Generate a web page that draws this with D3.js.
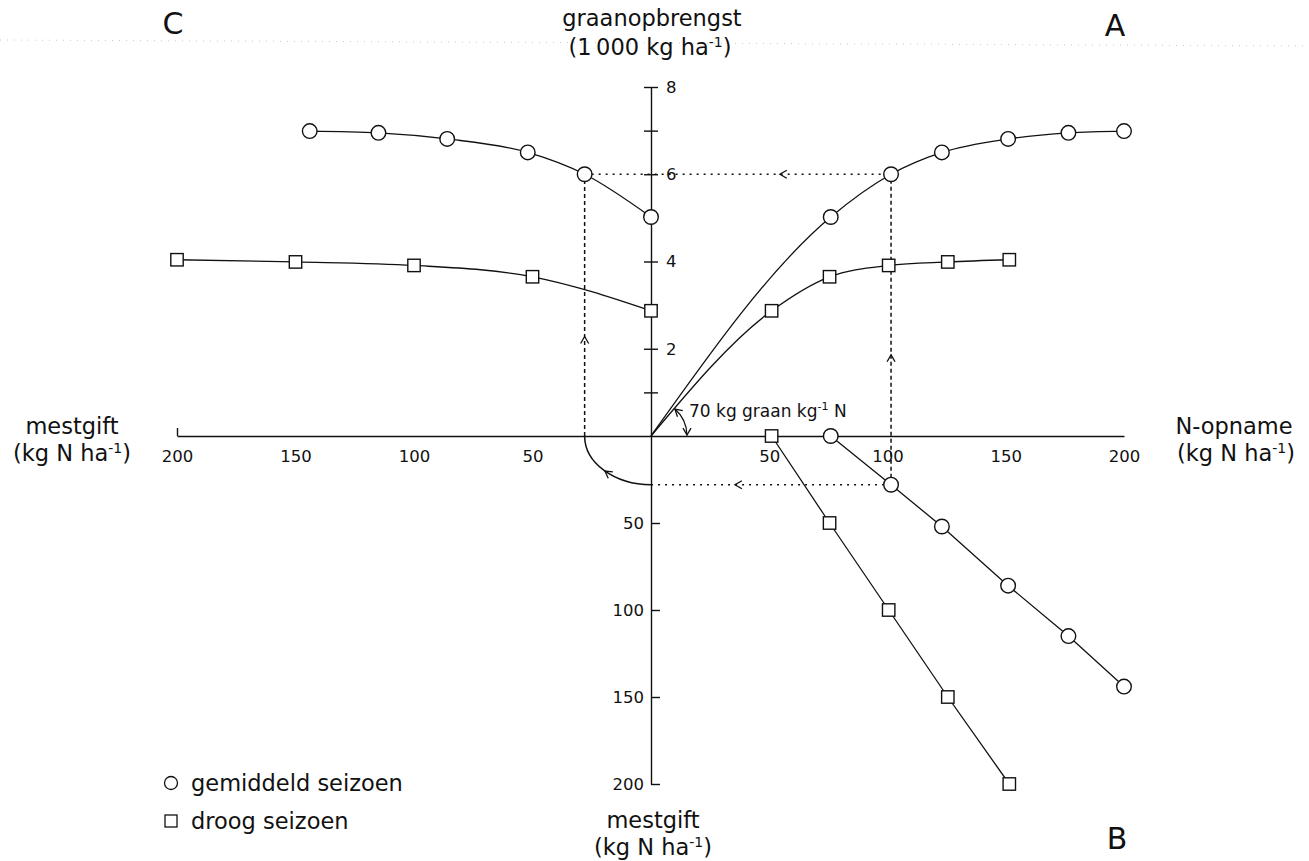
<!DOCTYPE html>
<html>
<head>
<meta charset="utf-8">
<script src="https://cdn.jsdelivr.net/npm/d3@7"></script>
<style>
  body { margin: 0; background: #fff; }
  text { font-family: 'DejaVu Sans', sans-serif; fill: #111; }
  .tick text { font-size: 16.5px; }
  .title { font-size: 22.5px; }
</style>
</head>
<body>
<div id="chart"></div>
<script>
const WIDTH  = 1309;
const HEIGHT = 861;
const ORIGIN = { x: 651, y: 436 };

// gemiddeld seizoen (circles): N-opname, mestgift, graanopbrengst per point
const avgUptake = [76, 101.5, 123, 151, 176.5, 200];
const avgFert   = [0, 28, 52, 86, 115, 144];
const avgYield  = [5.02, 6.0, 6.5, 6.81, 6.95, 6.99];

// droog seizoen (squares)
const dryUptake = [51, 75.5, 100.5, 125.5, 151.5];
const dryFert   = [0, 50, 100, 150, 200];
const dryYield  = [2.87, 3.65, 3.91, 3.99, 4.04];

const yieldTicks  = [1, 2, 3, 4, 5, 6, 7, 8];
const yieldLabels = [2, 4, 6, 8];
const fertTicks   = [50, 100, 150, 200];
const uptakeTicks = [50, 100, 150, 200];

// worked example
const example = { fert: 28, uptake: 101.5, yield: 6 };

const svg = d3.select('#chart').append('svg')
  .attr('width', WIDTH)
  .attr('height', HEIGHT);

// one scale per half-axis, all meeting at the origin
const xN = d3.scaleLinear().domain([0, 200]).range([ORIGIN.x, 1124]);  // N-opname, right
const xM = d3.scaleLinear().domain([0, 200]).range([ORIGIN.x, 177]);   // mestgift, left
const yY = d3.scaleLinear().domain([0, 8]).range([ORIGIN.y, 87]);      // graan, up
const yM = d3.scaleLinear().domain([0, 200]).range([ORIGIN.y, 784]);   // mestgift, down

// faint scan line at the top
svg.append('line')
  .attr('x1', 0).attr('y1', 40).attr('x2', WIDTH).attr('y2', 46)
  .attr('stroke', '#c8c8c8').attr('stroke-width', 1).attr('stroke-dasharray', '1,6');

// ---- axes
const topAxis = d3.axisRight(yY).tickValues(yieldTicks).tickSize(7).tickSizeOuter(0)
  .tickFormat(d => yieldLabels.includes(d) ? d : '');
const gTop = svg.append('g').attr('transform', 'translate(' + ORIGIN.x + ',0)').call(topAxis);
gTop.selectAll('.tick line').attr('x1', -7);
gTop.selectAll('.tick text').attr('x', 15);

const bottomAxis = d3.axisRight(yM).tickValues(fertTicks).tickSize(9).tickSizeOuter(0);
const gBottom = svg.append('g').attr('transform', 'translate(' + ORIGIN.x + ',0)').call(bottomAxis);
gBottom.selectAll('.tick text').attr('x', -7).attr('text-anchor', 'end');

const leftAxis = d3.axisBottom(xM).tickValues(fertTicks).tickSize(0).tickSizeOuter(0);
const gLeft = svg.append('g').attr('transform', 'translate(0,' + ORIGIN.y + ')').call(leftAxis);
gLeft.selectAll('.tick text').attr('y', 26).attr('dy', 0);
gLeft.selectAll('.tick line').attr('y2', d => d === 200 ? -8 : 0);

const rightAxis = d3.axisBottom(xN).tickValues(uptakeTicks).tickSize(0).tickSizeOuter(0);
const gRight = svg.append('g').attr('transform', 'translate(0,' + ORIGIN.y + ')').call(rightAxis);
gRight.selectAll('.tick text').attr('y', 26).attr('dy', 0);

svg.selectAll('.domain, .tick line').attr('stroke', '#111').attr('stroke-width', 1.4);

// ---- construction lines (dotted/dashed with arrows)
const guide = svg.append('g').attr('fill', 'none').attr('stroke', '#111').attr('stroke-width', 1.5);
guide.append('line')
  .attr('x1', xM(example.fert)).attr('x2', xN(example.uptake))
  .attr('y1', yY(example.yield)).attr('y2', yY(example.yield))
  .attr('stroke-dasharray', '2,5');
guide.append('line')
  .attr('x1', xN(example.uptake)).attr('x2', ORIGIN.x)
  .attr('y1', yM(example.fert)).attr('y2', yM(example.fert))
  .attr('stroke-dasharray', '2,5');
guide.append('line')
  .attr('x1', xN(example.uptake)).attr('x2', xN(example.uptake))
  .attr('y1', yM(example.fert)).attr('y2', yY(example.yield))
  .attr('stroke-dasharray', '4,3');
guide.append('line')
  .attr('x1', xM(example.fert)).attr('x2', xM(example.fert))
  .attr('y1', ORIGIN.y).attr('y2', yY(example.yield))
  .attr('stroke-dasharray', '4,3');

// quarter ellipse carrying mestgift from the lower axis to the left axis
const rx = ORIGIN.x - xM(example.fert);
const ry = yM(example.fert) - ORIGIN.y;
guide.append('path')
  .attr('d', 'M' + ORIGIN.x + ',' + yM(example.fert) +
             'A' + rx + ',' + ry + ' 0 0 1 ' + xM(example.fert) + ',' + ORIGIN.y);

function arrowHead(g, x, y, angle) {
  const L = 8, spread = Math.PI / 6;
  g.append('path')
    .attr('d', 'M' + (x - L * Math.cos(angle - spread)) + ',' + (y - L * Math.sin(angle - spread)) +
               'L' + x + ',' + y +
               'L' + (x - L * Math.cos(angle + spread)) + ',' + (y - L * Math.sin(angle + spread)))
    .attr('fill', 'none').attr('stroke', '#111').attr('stroke-width', 1.3);
}
arrowHead(svg, xN(54.5), yY(example.yield), Math.PI);
arrowHead(svg, xN(35.5), yM(example.fert), Math.PI);
arrowHead(svg, xN(example.uptake), yY(1.86), -Math.PI / 2);
arrowHead(svg, xM(example.fert), yY(2.28), -Math.PI / 2);
const t = 134 * Math.PI / 180;
arrowHead(svg, ORIGIN.x + rx * Math.cos(t), ORIGIN.y + ry * Math.sin(t),
          Math.atan2(ry * Math.cos(t), -rx * Math.sin(t)));

// ---- curves
const lineA = d3.line().x(d => xN(d[0])).y(d => yY(d[1])).curve(d3.curveMonotoneX);
const lineB = d3.line().x(d => xN(d[0])).y(d => yM(d[1]));
const lineC = d3.line().x(d => xM(d[0])).y(d => yY(d[1])).curve(d3.curveMonotoneX);

const series = [
  { shape: 'circle', uptake: avgUptake, fert: avgFert, yield: avgYield },
  { shape: 'square', uptake: dryUptake, fert: dryFert, yield: dryYield }
];

const curves = svg.append('g').attr('fill', 'none').attr('stroke', '#111').attr('stroke-width', 1.3);
series.forEach(s => {
  curves.append('path').attr('d', lineA([[0, 0]].concat(d3.zip(s.uptake, s.yield))));
  curves.append('path').attr('d', lineB(d3.zip(s.uptake, s.fert)));
  curves.append('path').attr('d', lineC(d3.zip(s.fert, s.yield)));
});

// slope annotation at the origin
const slopeAngle = Math.atan2(yY(avgYield[0]) - ORIGIN.y, xN(avgUptake[0]) - ORIGIN.x);
const R = 36;
svg.append('path')
  .attr('d', d3.arc()({ innerRadius: R, outerRadius: R,
                        startAngle: Math.PI / 2 + slopeAngle + 0.04, endAngle: Math.PI / 2 - 0.02 }))
  .attr('transform', 'translate(' + ORIGIN.x + ',' + ORIGIN.y + ')')
  .attr('fill', 'none').attr('stroke', '#111').attr('stroke-width', 1.3);
const a0 = slopeAngle + 0.04;
arrowHead(svg, ORIGIN.x + R * Math.cos(a0), ORIGIN.y + R * Math.sin(a0), a0 - Math.PI / 2);
arrowHead(svg, ORIGIN.x + R, ORIGIN.y - 1, Math.PI / 2);

const slopeLabel = svg.append('text').attr('x', 689).attr('y', 417).style('font-size', '17px');
slopeLabel.append('tspan').text('70 kg graan kg');
slopeLabel.append('tspan').attr('dy', -7).style('font-size', '11px').text('-1');
slopeLabel.append('tspan').attr('dy', 7).text(' N');

// ---- markers
function drawMarkers(s, xs, ys, xScale, yScale) {
  const pts = d3.zip(xs, ys);
  if (s.shape === 'circle') {
    svg.append('g').selectAll('circle').data(pts).join('circle')
      .attr('cx', d => xScale(d[0])).attr('cy', d => yScale(d[1])).attr('r', 7.3)
      .attr('fill', '#fff').attr('stroke', '#111').attr('stroke-width', 1.4);
  } else {
    svg.append('g').selectAll('rect').data(pts).join('rect')
      .attr('x', d => xScale(d[0]) - 6.2).attr('y', d => yScale(d[1]) - 6.2)
      .attr('width', 12.4).attr('height', 12.4)
      .attr('fill', '#fff').attr('stroke', '#111').attr('stroke-width', 1.4);
  }
}
series.forEach(s => {
  drawMarkers(s, s.uptake, s.yield, xN, yY);
  drawMarkers(s, s.uptake, s.fert, xN, yM);
  drawMarkers(s, s.fert, s.yield, xM, yY);
});

// ---- titles
function unitLabel(x, y, before, after) {
  const t = svg.append('text').attr('class', 'title').attr('x', x).attr('y', y)
    .attr('text-anchor', 'middle');
  t.append('tspan').text(before);
  t.append('tspan').attr('dy', -8).style('font-size', '14px').text('-1');
  t.append('tspan').attr('dy', 8).text(after);
}
function title(x, y, str) {
  svg.append('text').attr('class', 'title').attr('x', x).attr('y', y)
    .attr('text-anchor', 'middle').text(str);
}
title(652, 26, 'graanopbrengst');
unitLabel(650, 55, '(1\u2009000 kg ha', ')');
title(72, 434, 'mestgift');
unitLabel(72, 461, '(kg N ha', ')');
title(1234, 434, 'N-opname');
unitLabel(1236, 461, '(kg N ha', ')');
title(653, 828, 'mestgift');
unitLabel(653, 855, '(kg N ha', ')');

// quadrant letters
[['C', 173, 34], ['A', 1115, 36], ['B', 1117, 849]].forEach(q => {
  svg.append('text').attr('x', q[1]).attr('y', q[2]).attr('text-anchor', 'middle')
    .style('font-size', '30px').text(q[0]);
});

// ---- legend
svg.append('circle').attr('cx', 171).attr('cy', 783).attr('r', 6.5)
  .attr('fill', '#fff').attr('stroke', '#111').attr('stroke-width', 1.3);
svg.append('text').attr('class', 'title').attr('x', 191).attr('y', 791).text('gemiddeld seizoen');
svg.append('rect').attr('x', 165).attr('y', 815).attr('width', 12).attr('height', 12)
  .attr('fill', '#fff').attr('stroke', '#111').attr('stroke-width', 1.3);
svg.append('text').attr('class', 'title').attr('x', 191).attr('y', 829).text('droog seizoen');
</script>
</body>
</html>
